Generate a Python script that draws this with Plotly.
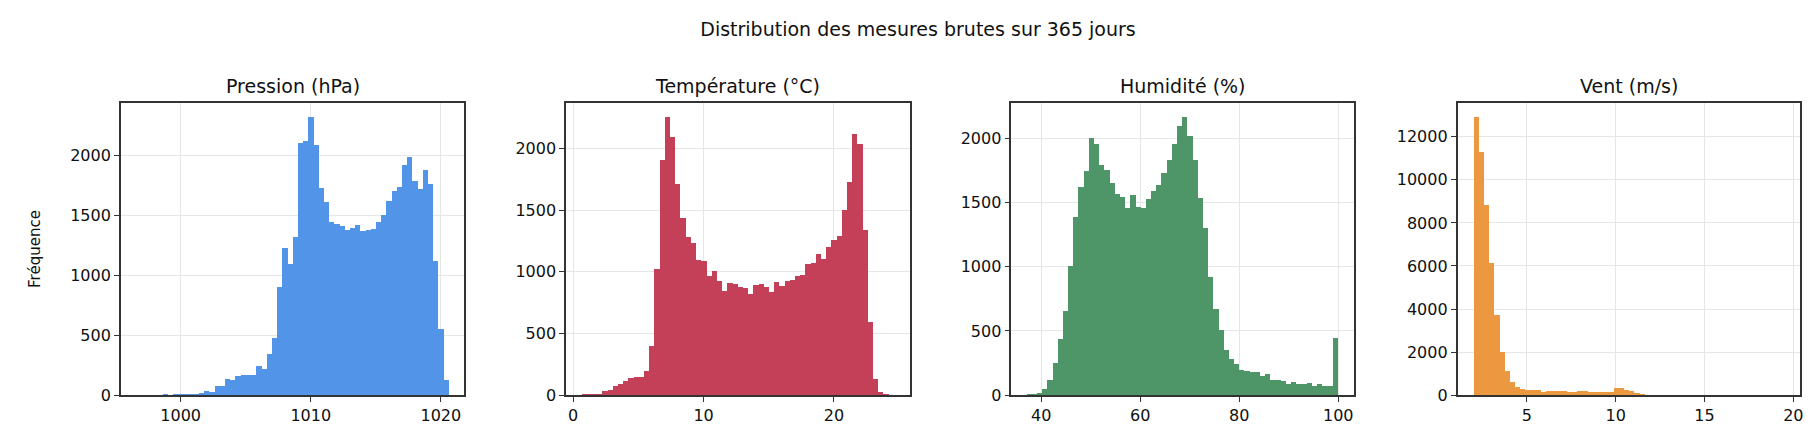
import numpy as np
import plotly.graph_objects as go

# histogram counts, 60 bins each
pression_range = (996.6, 1020.6)
pression = [1, 0, 1, 2, 2, 3, 2, 3, 4, 3, 5,
            8, 16, 35, 27, 77, 77, 137, 129, 159, 167, 167, 167, 241, 219, 348, 479,
            899, 1227, 1096, 1318, 2099, 2123, 2320, 2082, 1729, 1614, 1444, 1427,
            1411, 1378, 1392, 1416, 1370, 1378, 1384, 1441, 1499, 1622, 1704, 1737,
            1918, 1984, 1786, 1721, 1877, 1762, 1121, 553, 126]

temp_range = (0.65, 24.6)
temperature = [3, 3, 3, 10, 35, 43, 75, 91, 115, 144, 146, 146, 194, 402, 1025,
               1904, 2256, 2096, 1712, 1441, 1281, 1233, 1097, 1087, 969, 1009, 929,
               842, 913, 905, 881, 866, 818, 897, 905, 881, 834, 921, 889, 929, 937,
               964, 972, 1065, 1073, 1145, 1105, 1201, 1257, 1289, 1505, 1728, 2120,
               2040, 1337, 594, 133, 27, 5, 2]

hum_range = (37.1, 100.0)
humidite = [5, 10, 18, 51, 118, 248, 440, 655, 1008, 1391, 1621, 1744, 2005, 1959,
            1790, 1752, 1652, 1568, 1545, 1460, 1560, 1468, 1460, 1529, 1591, 1637,
            1729, 1829, 1959, 2097, 2166, 2020, 1829, 1537, 1299, 923, 670, 509, 355,
            279, 240, 194, 187, 179, 179, 148, 164, 118, 118, 110, 87, 102, 87, 87,
            95, 72, 87, 72, 72, 448]

vent_range = (1.98, 19.5)
vent = [12931, 11282, 8855, 6153, 3740, 2000, 1115, 611, 382, 290, 244, 244, 244,
        153, 198, 198, 198, 198, 153, 153, 198, 198, 153, 153, 153, 153, 153, 336,
        336, 244, 198, 107, 61, 15, 10, 6, 4, 3, 2, 2, 1, 1, 1, 0, 1, 0, 0, 1, 0,
        0, 0, 0, 1, 0, 0, 0, 0, 0, 0, 1]

titles = ["Pression (hPa)", "Température (°C)", "Humidité (%)", "Vent (m/s)"]
colors = ["#5294E8", "#C44058", "#4E9567", "#EB9840"]
ranges = [pression_range, temp_range, hum_range, vent_range]
series = [pression, temperature, humidite, vent]
x_ticks = [[1000, 1010, 1020], [0, 10, 20], [40, 60, 80, 100], [5, 10, 15, 20]]
y_dticks = [500, 500, 500, 2000]

W, H = 1820, 448
x_dom = [(113, 457), (559, 903), (1005, 1348), (1452, 1795)]
y_dom = (1 - 396 / H, 1 - 97 / H)

fig = go.Figure()
font = dict(family="DejaVu Sans", color="#111")

for i in range(4):
    lo, hi = ranges[i]
    counts = np.array(series[i])
    edges = np.linspace(lo, hi, len(counts) + 1)
    centers = (edges[:-1] + edges[1:]) / 2
    width = edges[1] - edges[0]
    n = "" if i == 0 else str(i + 1)
    fig.add_trace(go.Bar(x=centers, y=counts, width=width, marker_color=colors[i],
                         marker_line_width=0, showlegend=False,
                         xaxis="x" + n, yaxis="y" + n))
    pad = (hi - lo) * 0.05
    ax = dict(domain=[x_dom[i][0] / W, x_dom[i][1] / W], range=[lo - pad, hi + pad],
              tickvals=x_ticks[i], showgrid=True, gridcolor="#e6e6e6",
              showline=True, linecolor="#333", linewidth=1.5, mirror=True,
              ticks="outside", ticklen=5, tickcolor="#333", zeroline=False,
              tickfont=dict(size=16), anchor="y" + n)
    ay = dict(domain=list(y_dom), range=[0, max(counts) * 1.05], dtick=y_dticks[i],
              tickformat="d", showgrid=True, gridcolor="#e6e6e6", showline=True,
              linecolor="#333", linewidth=1.5, mirror=True, ticks="outside",
              ticklen=5, tickcolor="#333", zeroline=False, tickfont=dict(size=16),
              anchor="x" + n)
    fig.update_layout(**{"xaxis" + n: ax, "yaxis" + n: ay})
    fig.add_annotation(text=titles[i], x=(x_dom[i][0] + x_dom[i][1]) / 2 / W,
                       y=1 - 80 / H, xref="paper", yref="paper", showarrow=False,
                       xanchor="center", yanchor="middle", font=dict(size=19))

fig.add_annotation(text="Fréquence", textangle=-90, x=27 / W, y=sum(y_dom) / 2,
                   xref="paper", yref="paper", showarrow=False, xanchor="center",
                   font=dict(size=15))

fig.update_layout(
    title=dict(text="Distribution des mesures brutes sur 365 jours", x=0.5,
               xanchor="center", y=1 - 21 / H, yanchor="middle", font=dict(size=19)),
    width=W, height=H, margin=dict(l=0, r=0, t=0, b=0),
    plot_bgcolor="white", paper_bgcolor="white", bargap=0, font=font,
)

fig.write_html("out.html")
